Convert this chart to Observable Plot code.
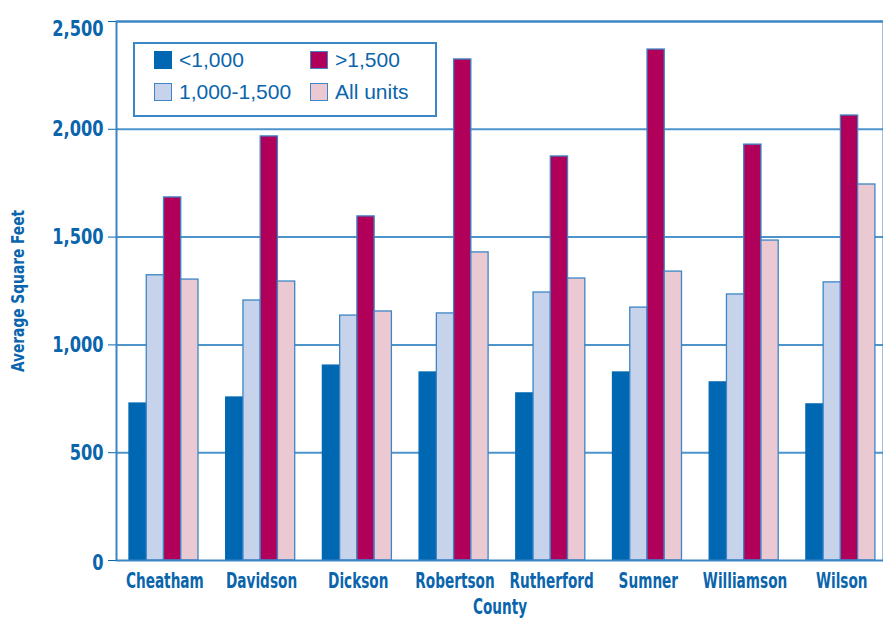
<!DOCTYPE html>
<html><head><meta charset="utf-8">
<script src="https://cdn.jsdelivr.net/npm/d3@7"></script>
<script src="https://cdn.jsdelivr.net/npm/@observablehq/plot@0.6"></script>
<style>
body{margin:0;background:#fff}
#wrap{position:relative;width:883px;height:620px;overflow:hidden}
.legend{position:absolute;left:133px;top:42px;width:300px;height:71px;border:2px solid #3b86c5;font-family:"Liberation Sans",Arial,sans-serif;font-size:21px;color:#0a65ad}
.item{position:absolute;display:flex;align-items:center;height:22px}
.sw{width:18px;height:18px;margin-right:7px;box-sizing:border-box}
</style>
</head><body>
<div id="wrap"><div id="chart"></div></div>
<script>
const counties = ["Cheatham","Davidson","Dickson","Robertson","Rutherford","Sumner","Williamson","Wilson"];
const series = ["<1,000","1,000-1,500",">1,500","All units"];
const under1000 = [728,756,904,872,775,872,826,724];
const from1000to1500 = [1323,1206,1136,1146,1243,1173,1234,1290];
const over1500 = [1684,1967,1596,2324,1874,2370,1929,2064];
const allUnits = [1303,1294,1155,1429,1308,1340,1484,1744];
const yTicks = [0,500,1000,1500,2000,2500];
const colors = ["#0068b3","#c6d3ea","#b0005a","#ebc9d3"];
const seriesValues = [under1000, from1000to1500, over1500, allUnits];

const rows = series.flatMap((s,i) => counties.map((c,j) => ({county:c, series:s, value:seriesValues[i][j]})));

const W = 883, H = 620, mL = 116, mR = 0;
const xEnd = 889.6;
const band = (xEnd - mL) / counties.length;
const bw = 17.25, off = 13;
const blue = "#0a65ad";
const narrow = '"DejaVu Sans Condensed","Liberation Sans Narrow",sans-serif';
const fmt = d3.format(",");

const bars = series.map((s,i) => Plot.barY(rows.filter(d => d.series === s), {
  x: "county", y: "value", fill: "series",
  stroke: i === 0 ? colors[0] : "#3d85c6", strokeWidth: 1.3,
  insetLeft: off + i*bw, insetRight: band - off - (i+1)*bw
}));

const chart = Plot.plot({
  width: W, height: H,
  marginTop: 21, marginBottom: 60, marginLeft: mL, marginRight: mR,
  style: {color: blue, background: "#fff"},
  x: {domain: counties, padding: 0, round: false, range: [mL, xEnd], axis: null},
  y: {domain: [0,2500], ticks: yTicks, tickFormat: fmt, tickSize: 8, tickPadding: 5, label: null},
  color: {domain: series, range: colors},
  marks: [
    Plot.ruleY(yTicks.slice(1), {stroke: "#4d94cb", strokeWidth: 2}),
    ...bars,
    Plot.frame({stroke: "#3a84c4", strokeWidth: 2}),
    Plot.text(counties, {x: d => d, frameAnchor: "bottom", dy: 27, text: d => d, fontSize: 22, fontWeight: "bold", fontFamily: narrow, fill: blue}),
    Plot.text(["County"], {frameAnchor: "bottom", dy: 53, text: d => d, fontSize: 21, fontWeight: "bold", fontFamily: narrow, fill: blue}),
    Plot.text(["Average Square Feet"], {frameAnchor: "left", textAnchor: "middle", dx: -98, rotate: -90, text: d => d, fontSize: 18, fontWeight: "bold", fontFamily: narrow, fill: blue})
  ]
});
document.getElementById("chart").appendChild(chart);

// condense text horizontally (reference uses a condensed bold face)
function condense(node, k, dyShift) {
  const el = d3.select(node);
  const xa = el.attr("x"), ya = el.attr("y");
  const x = xa != null && isFinite(+xa) ? +xa : 0;
  let y = 0;
  if (ya != null && isFinite(+ya)) { y = +ya; el.attr("y", null); }
  if (xa != null && isFinite(+xa)) el.attr("x", null);
  const t = el.attr("transform") || "";
  el.attr("transform", `${t} translate(${x},${y + (dyShift||0)}) scale(${k},1)`);
}
const countySet = new Set(counties);
d3.select(chart).selectAll("text").each(function() {
  const s = this.textContent;
  const el = d3.select(this);
  if (countySet.has(s)) condense(this, 0.69);
  else if (s === "County") condense(this, 0.72);
  else if (s === "Average Square Feet") condense(this, 0.85);
  else if (/^[\d,]+$/.test(s)) {
    el.style("font-size", "22px").style("font-weight", "bold").style("font-family", narrow).attr("fill", blue);
    condense(this, 0.82, s === "2,500" ? 7 : (s === "0" ? 2 : 0));
  }
});

// legend inside the plot area
const leg = document.createElement("div");
leg.className = "legend";
const pos = [[19,5],[19,37],[175,5],[175,37]];
series.forEach((s,i) => {
  const it = document.createElement("div");
  it.className = "item";
  it.style.left = pos[i][0] + "px"; it.style.top = pos[i][1] + "px";
  const sw = document.createElement("div");
  sw.className = "sw";
  sw.style.background = colors[i];
  sw.style.border = i === 0 ? "none" : "1.5px solid #3d85c6";
  it.appendChild(sw);
  const t = document.createElement("span"); t.textContent = s;
  it.appendChild(t);
  leg.appendChild(it);
});
document.getElementById("wrap").appendChild(leg);
</script>
</body></html>
